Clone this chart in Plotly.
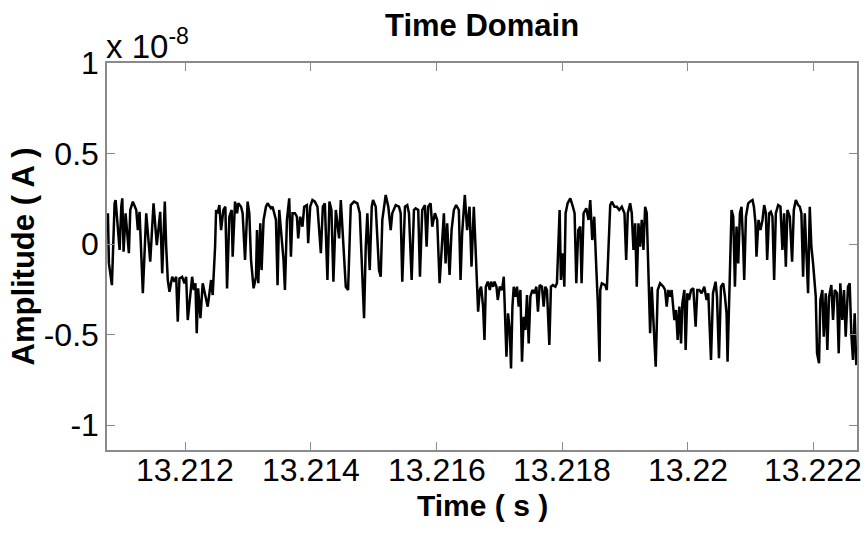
import numpy as np
import plotly.graph_objects as go

# Recorded current trace: time offsets (ms after 13.21 s) and amplitude (x 1e-8 A)
T0 = 13.21
t_ms = [
    0.7647, 0.7806, 0.8283, 0.8712, 0.8871, 0.9507, 0.9777, 0.9936, 1.0143, 1.0461,
    1.0986, 1.1208, 1.1622, 1.2162, 1.2417, 1.2687, 1.3211, 1.3752, 1.4388, 1.4913,
    1.5437, 1.5978, 1.6296, 1.6709, 1.6932, 1.7186, 1.7456, 1.7886, 1.8251, 1.8521,
    1.8776, 1.9046, 1.9475, 1.9841, 2.0111, 2.0366, 2.1065, 2.1320, 2.1590, 2.1797,
    2.2019, 2.2385, 2.2750, 2.3545, 2.4086, 2.4340, 2.4722, 2.4881, 2.5135, 2.5405,
    2.5676, 2.6041, 2.6359, 2.6630, 2.6995, 2.7361, 2.7520, 2.7901, 2.8219, 2.8426,
    2.8855, 2.9110, 2.9491, 2.9905, 3.0175, 3.0445, 3.0859, 3.1240, 3.1399, 3.1606,
    3.1924, 3.2130, 3.2448, 3.2830, 3.3084, 3.3625, 3.3879, 3.4149, 3.4420, 3.4674,
    3.4944, 3.5310, 3.5628, 3.5851, 3.6169, 3.6534, 3.6804, 3.7059, 3.7440, 3.7758,
    3.7965, 3.8283, 3.8649, 3.8919, 3.9348, 3.9555, 3.9873, 4.0238, 4.0620, 4.1033,
    4.1574, 4.1892, 4.2210, 4.2623, 4.2941, 4.3259, 4.3577, 4.3959, 4.4213, 4.4483,
    4.4754, 4.5167, 4.5548, 4.5914, 4.6232, 4.6343, 4.6868, 4.7393, 4.7774, 4.8092,
    4.8299, 4.8458, 4.8728, 4.8983, 4.9142, 4.9364, 4.9682, 4.9889, 5.0318, 5.0572,
    5.0843, 5.1113, 5.1367, 5.1908, 5.2321, 5.2703, 5.2957, 5.3498, 5.4022, 5.4293,
    5.4547, 5.4976, 5.5342, 5.5612, 5.6041, 5.6407, 5.6677, 5.7091, 5.7361, 5.7727,
    5.8156, 5.8426, 5.8681, 5.9062, 5.9316, 5.9746, 6.0111, 6.0493, 6.0811, 6.1176,
    6.1447, 6.1701, 6.2083, 6.2401, 6.2766, 6.3132, 6.3561, 6.3831, 6.4086, 6.4515,
    6.4881, 6.5262, 6.5580, 6.5946, 6.6216, 6.6630, 6.6900, 6.7107, 6.7424, 6.7647,
    6.7854, 6.8172, 6.8490, 6.8696, 6.9014, 6.9237, 6.9555, 6.9762, 7.0079, 7.0445,
    7.0715, 7.0986, 7.1145, 7.1399, 7.1669, 7.1876, 7.2099, 7.2305, 7.2576, 7.2830,
    7.3100, 7.3370, 7.3625, 7.3895, 7.4165, 7.4420, 7.4690, 7.4960, 7.5278, 7.5596,
    7.5914, 7.6169, 7.6439, 7.6804, 7.7075, 7.7345, 7.7599, 7.7981, 7.8235, 7.8553,
    7.8935, 7.9189, 7.9460, 7.9619, 7.9825, 8.0143, 8.0366, 8.0572, 8.0890, 8.1320,
    8.1733, 8.2003, 8.2273, 8.2591, 8.2909, 8.3116, 8.3434, 8.3863, 8.4229, 8.4499,
    8.4817, 8.5135, 8.5453, 8.5707, 8.5978, 8.6089, 8.6343, 8.6884, 8.7138, 8.7409,
    8.7679, 8.7933, 8.8362, 8.8728, 8.9110, 8.9523, 8.9952, 9.0223, 9.0477, 9.0859,
    9.1113, 9.1383, 9.1653, 9.1908, 9.2178, 9.2448, 9.2703, 9.2973, 9.3243, 9.3498,
    9.3768, 9.4038, 9.4293, 9.4563, 9.4928, 9.5246, 9.5628, 9.6153, 9.6423, 9.6677,
    9.6948, 9.7218, 9.7472, 9.7901, 9.8172, 9.8426, 9.8696, 9.8967, 9.9173, 9.9491,
    9.9698, 9.9968, 10.0238, 10.0556, 10.0922, 10.1288, 10.1558, 10.1876, 10.2242, 10.2671,
    10.3037, 10.3307, 10.3736, 10.4054, 10.4467, 10.4690, 10.5008, 10.5326, 10.5692, 10.5962,
    10.6216, 10.6375, 10.6598, 10.6852, 10.7011, 10.7281, 10.7552, 10.7806, 10.8076, 10.8347,
    10.8601, 10.8871, 10.9030, 10.9300, 10.9666, 10.9936, 11.0350, 11.0572, 11.0827, 11.0986,
    11.1304, 11.1622, 11.1940, 11.2210, 11.2480, 11.2687, 11.3005, 11.3275, 11.3529, 11.3800,
    11.4070, 11.4436, 11.4801, 11.5119, 11.5390, 11.5660, 11.5914, 11.6296, 11.6661, 11.6932,
    11.7250, 11.7615, 11.7886, 11.8140, 11.8410, 11.8680, 11.8935, 11.9205, 11.9475, 11.9730,
    12.0000, 12.0270, 12.0429, 12.0636, 12.0954, 12.1160, 12.1478, 12.1701, 12.2019, 12.2273,
    12.2544, 12.2909, 12.3180, 12.3450, 12.3816, 12.4086, 12.4340, 12.4658, 12.4928, 12.5199,
    12.5564, 12.5835, 12.6089, 12.6359, 12.6630, 12.6884,
]
amp = [
    0.170, -0.107, -0.227, 0.225, 0.243, -0.033, 0.206, 0.252, -0.043, 0.170,
    -0.051, 0.188, 0.234, 0.188, 0.077, 0.178, -0.272, 0.170, -0.098, 0.225,
    -0.006, 0.178, -0.162, 0.234, -0.015, -0.199, -0.264, -0.181, -0.208, -0.181,
    -0.429, -0.190, -0.181, -0.217, -0.181, -0.420, -0.181, -0.254, -0.217, -0.493,
    -0.245, -0.410, -0.217, -0.346, -0.199, -0.282, -0.015, 0.188, 0.170, 0.215,
    0.077, 0.188, 0.206, -0.245, 0.151, 0.188, -0.070, 0.234, 0.170, 0.225,
    0.206, 0.170, -0.088, 0.234, 0.170, -0.088, -0.245, -0.181, 0.077, -0.217,
    0.114, -0.144, 0.133, 0.206, 0.225, 0.197, 0.206, 0.170, 0.133, -0.227,
    0.188, 0.040, -0.088, -0.254, 0.133, 0.252, -0.070, 0.170, 0.170, 0.151,
    0.031, 0.151, 0.096, 0.206, 0.215, 0.004, 0.206, 0.243, 0.234, 0.206,
    -0.051, 0.206, 0.225, -0.199, 0.234, 0.188, -0.208, 0.188, 0.114, 0.031,
    0.243, -0.015, -0.236, -0.254, 0.188, 0.215, 0.234, 0.225, 0.170, -0.088,
    -0.254, -0.410, -0.015, 0.170, 0.022, -0.144, 0.206, 0.243, 0.206, 0.040,
    -0.144, -0.181, 0.133, 0.271, 0.206, 0.077, 0.170, 0.215, 0.206, 0.170,
    -0.208, 0.206, 0.215, 0.170, -0.199, 0.188, 0.197, 0.188, -0.181, 0.188,
    0.215, -0.015, 0.206, 0.225, 0.096, 0.170, 0.133, -0.217, -0.015, 0.170,
    -0.107, 0.114, -0.171, 0.077, 0.188, 0.215, 0.188, -0.199, 0.059, 0.271,
    0.077, 0.206, -0.125, 0.206, -0.015, -0.374, -0.254, -0.236, -0.346, -0.530,
    -0.236, -0.208, -0.254, -0.208, -0.236, -0.208, -0.236, -0.309, -0.236, -0.254,
    -0.181, -0.438, -0.623, -0.383, -0.475, -0.687, -0.346, -0.236, -0.291, -0.236,
    -0.346, -0.254, -0.650, -0.402, -0.475, -0.282, -0.549, -0.291, -0.254, -0.272,
    -0.236, -0.374, -0.227, -0.236, -0.346, -0.236, -0.254, -0.558, -0.236, -0.227,
    -0.236, -0.217, 0.133, 0.188, -0.199, -0.051, -0.236, 0.170, 0.225, 0.252,
    0.206, 0.170, -0.217, 0.077, 0.096, -0.217, 0.170, 0.197, 0.133, 0.243,
    0.022, 0.151, -0.125, -0.328, -0.650, -0.254, -0.217, -0.227, -0.254, -0.015,
    0.215, 0.234, 0.206, 0.206, 0.188, 0.206, 0.170, -0.088, 0.170, 0.225,
    0.170, -0.033, 0.114, -0.236, 0.114, -0.015, 0.133, -0.033, 0.206, 0.170,
    -0.107, -0.493, -0.236, -0.420, -0.678, -0.254, -0.217, -0.236, -0.254, -0.346,
    -0.254, -0.291, -0.254, -0.420, -0.365, -0.530, -0.346, -0.549, -0.328, -0.254,
    -0.586, -0.272, -0.309, -0.254, -0.245, -0.457, -0.254, -0.254, -0.272, -0.236,
    -0.309, -0.272, -0.641, -0.272, -0.208, -0.291, -0.631, -0.236, -0.217, -0.291,
    -0.383, -0.650, -0.383, -0.015, 0.188, 0.151, -0.236, 0.096, -0.107, 0.170,
    0.206, -0.015, -0.199, 0.151, 0.225, 0.234, 0.243, 0.206, 0.114, -0.070,
    0.133, 0.077, 0.133, 0.215, 0.170, -0.088, 0.170, 0.178, 0.151, -0.199,
    0.170, 0.215, 0.206, -0.033, 0.170, -0.125, 0.188, 0.151, -0.098, 0.188,
    0.243, 0.215, 0.206, 0.170, -0.181, 0.170, -0.107, -0.272, 0.206, -0.015,
    -0.107, -0.236, -0.291, -0.604, -0.659, -0.309, -0.254, -0.512, -0.272, -0.586,
    -0.291, -0.227, -0.420, -0.254, -0.272, -0.604, -0.217, -0.420, -0.254, -0.512,
    -0.236, -0.217, -0.493, -0.641, -0.383, -0.669,
]

x_ticks = [13.212, 13.214, 13.216, 13.218, 13.22, 13.222]
x_tick_text = ["13.212", "13.214", "13.216", "13.218", "13.22", "13.222"]
y_ticks = [-1, -0.5, 0, 0.5, 1]
y_tick_text = ["-1", "-0.5", "0", "0.5", "1"]

time_s = T0 + np.array(t_ms) / 1000.0

FONT = "Liberation Sans, Arial, Helvetica, sans-serif"
AXIS_GREY = "#8a8a8a"
TICK_SIZE = 32

fig = go.Figure(
    go.Scatter(
        x=time_s, y=amp, mode="lines",
        line=dict(color="black", width=2.5),
        hoverinfo="skip", showlegend=False,
    )
)

axis_common = dict(
    showgrid=False, zeroline=False, showline=True, linecolor=AXIS_GREY, linewidth=1.5,
    mirror="ticks", ticks="inside", ticklen=8, tickwidth=1, tickcolor=AXIS_GREY,
    tickfont=dict(family=FONT, size=TICK_SIZE, color="black"),
)

# x tick labels sit close under the axis, placed at their tick values
x_label_notes = [
    dict(text=txt, x=val, y=0, xref="x", yref="paper", xanchor="center", yanchor="middle",
         yshift=-20, showarrow=False, font=dict(family=FONT, size=TICK_SIZE, color="black"))
    for val, txt in zip(x_ticks, x_tick_text)
]

fig.update_layout(
    width=866, height=533,
    margin=dict(l=107, r=7, t=63, b=83),
    paper_bgcolor="white", plot_bgcolor="white",
    xaxis=dict(range=[13.21075, 13.2227], tickvals=x_ticks, showticklabels=False, **axis_common),
    yaxis=dict(range=[-1.138, 1.0], tickvals=y_ticks, ticktext=y_tick_text, **axis_common),
    annotations=x_label_notes + [
        dict(text="<b>Time Domain</b>", x=0.5, y=1, xref="paper", yref="paper",
             xanchor="center", yanchor="bottom", yshift=18, showarrow=False,
             font=dict(family=FONT, size=31, color="black")),
        dict(text="<b>Time ( s )</b>", x=0.5, y=0, xref="paper", yref="paper",
             xanchor="center", yanchor="top", yshift=-37, showarrow=False,
             font=dict(family=FONT, size=30, color="black")),
        dict(text="<b>Amplitude ( A )</b>", x=0, y=0.5, xref="paper", yref="paper",
             xanchor="center", yanchor="middle", xshift=-84, textangle=-90, showarrow=False,
             font=dict(family=FONT, size=31, color="black")),
        dict(text="x 10<sup>-8</sup>", x=0, y=1, xref="paper", yref="paper",
             xanchor="left", yanchor="bottom", xshift=-3, yshift=-4, showarrow=False,
             font=dict(family=FONT, size=33, color="black")),
    ],
)

fig.write_html("out.html")
